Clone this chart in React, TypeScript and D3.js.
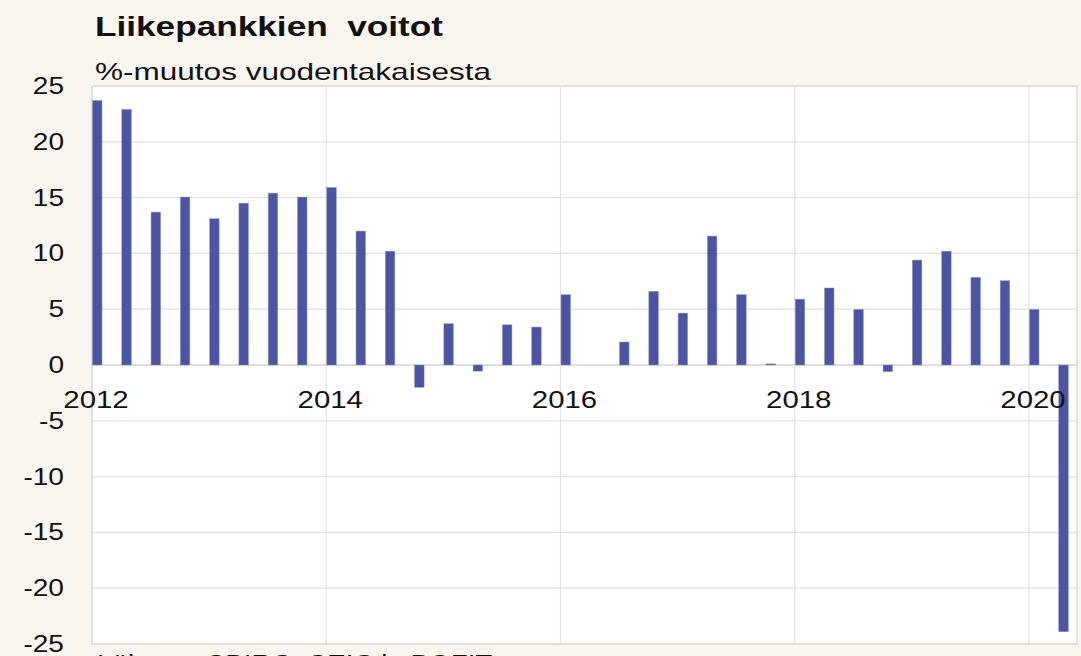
import React from "react";
import * as d3 from "d3";

const quarters: string[] = [
  "2012Q1","2012Q2","2012Q3","2012Q4","2013Q1","2013Q2","2013Q3","2013Q4",
  "2014Q1","2014Q2","2014Q3","2014Q4","2015Q1","2015Q2","2015Q3","2015Q4",
  "2016Q1","2016Q2","2016Q3","2016Q4","2017Q1","2017Q2","2017Q3","2017Q4",
  "2018Q1","2018Q2","2018Q3","2018Q4","2019Q1","2019Q2","2019Q3","2019Q4",
  "2020Q1","2020Q2",
];
const profitChange: number[] = [
  23.7, 22.9, 13.7, 15.05, 13.1, 14.5, 15.4, 15.05,
  15.9, 12.0, 10.2, -2.0, 3.7, -0.55, 3.6, 3.4,
  6.3, 0, 2.06, 6.6, 4.65, 11.55, 6.3, 0.1,
  5.9, 6.9, 4.98, -0.6, 9.4, 10.2, 7.85, 7.55,
  4.98, -23.9,
];
const yTicks: number[] = [25, 20, 15, 10, 5, 0, -5, -10, -15, -20, -25];
const xTickYears: number[] = [2012, 2014, 2016, 2018, 2020];
const title = "Liikepankkien  voitot";
const subtitle = "%-muutos vuodentakaisesta";
const source = "Lähteet: CBIRC, CEIC ja BOFIT.";

const W = 1081;
const H = 656;
const left = 92;
const right = 1077;
const top = 86;
const bottom = 644;
const FONT = "'Liberation Sans', Arial, sans-serif";

function qToYear(q: string): number {
  const y = +q.slice(0, 4);
  const n = +q.slice(5);
  return y + (n - 1) * 0.25;
}

export default function App() {
  const x = d3.scaleLinear().domain([2012, 2020.41]).range([left, right]);
  const y = d3.scaleLinear().domain([-25, 25]).range([bottom, top]);
  const barW = 9.5;

  return (
    <div style={{ position: "fixed", left: 0, top: 0, width: W, height: H }}>
      <svg width={W} height={H} style={{ display: "block", background: "#f9f5ef" }}>
        <rect x={left} y={top} width={right - left} height={bottom - top} fill="#ffffff" />
        {yTicks.map((t) => (
          <line key={"gy" + t} x1={left} x2={right} y1={y(t)} y2={y(t)} stroke="#e2e2e2" strokeWidth={1.2} />
        ))}
        {xTickYears.map((yr) => (
          <line key={"gx" + yr} x1={x(yr)} x2={x(yr)} y1={top} y2={bottom} stroke="#e2e2e2" strokeWidth={1.2} />
        ))}
        <rect x={left} y={top} width={right - left} height={bottom - top} fill="none" stroke="#dadada" strokeWidth={1.5} />
        <line x1={left} x2={right} y1={y(0)} y2={y(0)} stroke="#d8d8d8" strokeWidth={1.4} />
        {profitChange.map((v, i) => {
          const x0 = x(qToYear(quarters[i])) + 0.5;
          const y0 = Math.min(y(v), y(0));
          const h = Math.abs(y(v) - y(0));
          if (h < 0.01) return null;
          return (
            <rect key={quarters[i]} x={x0} y={y0} width={barW} height={Math.max(h, 1)}
              fill="#4b55a3" stroke="#8a91cc" strokeWidth={0.5} />
          );
        })}
        {yTicks.map((t) => (
          <text key={"ly" + t} transform={`translate(64,${y(t) + 8}) scale(1.17,1)`}
            textAnchor="end" fontFamily={FONT} fontSize={24} fill="#111">
            {String(t)}
          </text>
        ))}
        {xTickYears.map((yr) => (
          <text key={"lx" + yr} transform={`translate(${x(yr) + 4},408) scale(1.2,1)`}
            textAnchor="middle" fontFamily={FONT} fontSize={24.5} fill="#111">
            {String(yr)}
          </text>
        ))}
        <text x={95} y={36} fontFamily={FONT} fontWeight="bold" fontSize={28} fill="#111"
          textLength={348} lengthAdjust="spacingAndGlyphs" style={{ whiteSpace: "pre" }}>
          {title}
        </text>
        <text x={95} y={80} fontFamily={FONT} fontSize={24} fill="#111"
          textLength={396} lengthAdjust="spacingAndGlyphs">
          {subtitle}
        </text>
        <text x={97} y={672} fontFamily={FONT} fontSize={23} fill="#111"
          textLength={400} lengthAdjust="spacingAndGlyphs">
          {source}
        </text>
      </svg>
    </div>
  );
}
